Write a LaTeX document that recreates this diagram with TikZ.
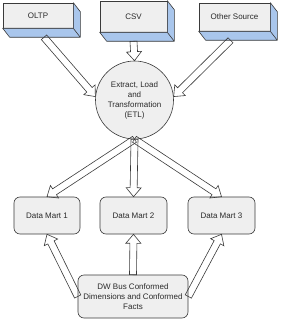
\documentclass[tikz,border=0pt]{standalone}
\usepackage{fontspec}
\setmainfont{Liberation Sans}
\usepackage{tikz}
\usetikzlibrary{calc,positioning}
\definecolor{etl-face}{HTML}{EFEFEF}
\definecolor{etl-side}{HTML}{A9C6EC}
\definecolor{etl-line}{HTML}{3A3A3A}
\definecolor{etl-text}{HTML}{2A2A2A}

\begin{document}
\begin{tikzpicture}[x=1pt,y=-1pt,line width=0.6pt,
    every node/.style={font=\fontsize{8}{10}\selectfont,text=etl-text,align=center},
    srcbox/.style={draw=etl-line,fill=etl-face,inner sep=0pt},
    sideface/.style={draw=etl-line,fill=etl-side,line join=round},
    martbox/.style={draw=etl-line,fill=etl-face,rounded corners=6pt,inner sep=0pt},
    hollow/.style={draw=etl-line,line join=miter,to path={
      let \p1=($(\tikztotarget)!9pt!(\tikztostart)$) in
      ($(\tikztostart)!3.5pt!90:(\tikztotarget)$) -- ($(\p1)!3.5pt!90:(\tikztotarget)$)
      -- ($(\p1)!7.5pt!90:(\tikztotarget)$) -- (\tikztotarget)
      -- ($(\p1)!7.5pt!-90:(\tikztotarget)$) -- ($(\p1)!3.5pt!-90:(\tikztotarget)$)
      -- ($(\tikztostart)!3.5pt!-90:(\tikztotarget)$) -- cycle}}]
  \useasboundingbox (0,0) rectangle (281,320);

  % Kilder (3D-kasser)
  \node[srcbox,minimum width=70pt,minimum height=25pt] (oltp) at (38,15.5) {OLTP};
  \node[srcbox,minimum width=67pt,minimum height=31pt] (csv) at (133.5,16.5) {CSV};
  \node[srcbox,minimum width=71pt,minimum height=28pt] (other) at (234.5,17) {Other Source};
  \foreach \b in {oltp,csv,other}
    \draw[sideface] (\b.north east) -- ++(7,9) -- ($(\b.south east)+(7,9)$)
      -- ($(\b.south west)+(7,9)$) -- (\b.south west) -- (\b.south east) -- cycle
      (\b.south east) -- ++(7,9);

  % ETL-cirkel
  \node[circle,draw=etl-line,fill=etl-face,minimum size=78pt,inner sep=0pt] (etl) at (134.5,100)
    {Extract, Load\\and\\Transformation\\(ETL)};

  % Data marts
  \node[martbox,minimum width=66pt,minimum height=37pt] (dm1) at (47,215.5) {Data Mart 1};
  \node[martbox,minimum width=67pt,minimum height=37pt] (dm2) at (133.5,215.5) {Data Mart 2};
  \node[martbox,minimum width=67pt,minimum height=37pt] (dm3) at (221.5,215.5) {Data Mart 3};

  % DW bus
  \node[martbox,minimum width=110pt,minimum height=43pt] (dw) at (133,296.5)
    {DW Bus Conformed\\Dimensions and Conformed\\Facts};

  % Pile
  \coordinate (oltpout) at ($(oltp.south)+(6,9)$);
  \coordinate (csvout) at ($(csv.south)+(0,9)$);
  \coordinate (otherout) at ($(other.south)+(-4,9)$);
  \draw[hollow] (oltpout) to (etl.175);
  \draw[hollow] (csvout) to (etl.north);
  \draw[hollow] (otherout) to (etl.5);
  \draw[hollow] (etl.south) to (dm1.north);
  \draw[hollow] (etl.south) to (dm2.north);
  \draw[hollow] (etl.south) to (dm3.north);
  \draw[hollow] (dw.west) to (dm1.south);
  \draw[hollow] (dw.north) to (dm2.south);
  \draw[hollow] (dw.east) to (dm3.south);
\end{tikzpicture}
\end{document}
